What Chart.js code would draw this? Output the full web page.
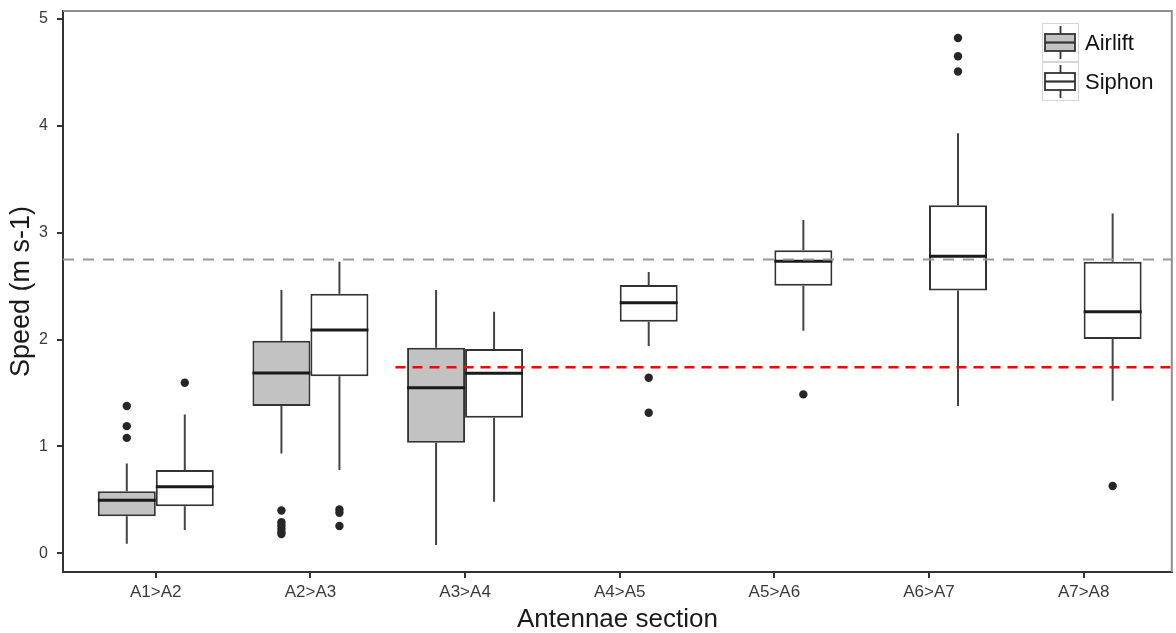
<!DOCTYPE html>
<html>
<head>
<meta charset="utf-8">
<title>Speed by antennae section</title>
<script src="https://cdn.jsdelivr.net/npm/chart.js@4.4.1/dist/chart.umd.min.js"></script>
<style>
  html, body { margin: 0; padding: 0; background: #fff; overflow: hidden; }
  #wrap { width: 1176px; height: 633px; }
</style>
</head>
<body>
<div id="wrap"><canvas id="chart"></canvas></div>
<script>
// --- DATA ---
const sections = ["A1>A2", "A2>A3", "A3>A4", "A4>A5", "A5>A6", "A6>A7", "A7>A8"];
const yTicks = [0, 1, 2, 3, 4, 5];

// Airlift only measured on the first three sections
const airliftLow = [0.09, 0.935, 0.078];
const airliftQ1 = [0.346, 1.378, 1.035];
const airliftMed = [0.496, 1.687, 1.549];
const airliftQ3 = [0.58, 1.99, 1.923];
const airliftHigh = [0.84, 2.463, 2.463];
const airliftOutliers = [[1.08, 1.19, 1.378], [0.40, 0.29, 0.26, 0.23, 0.20, 0.18], []];

const siphonLow = [0.218, 0.78, 0.483, 1.94, 2.083, 1.378, 1.428];
const siphonQ1 = [0.44, 1.658, 1.269, 2.166, 2.503, 2.46, 2.005];
const siphonMed = [0.623, 2.09, 1.684, 2.344, 2.734, 2.781, 2.26];
const siphonQ3 = [0.78, 2.43, 1.911, 2.51, 2.837, 3.258, 2.728];
const siphonHigh = [1.30, 2.728, 2.26, 2.632, 3.118, 3.932, 3.18];
const siphonOutliers = [[1.596], [0.41, 0.38, 0.255], [], [1.643, 1.315], [1.487], [4.823, 4.652, 4.509], [0.63]];

// reference speeds (dashed lines)
const greyRef = 2.75;
const redRef = 1.74;
const redRefFrom = 1.55; // section position where the red line starts

// --- LAYOUT ---
const DODGE = 0.1875;           // half a box width, in section units
const X_MIN = -0.6, X_MAX = 6.57;
const Y_MIN = -0.175, Y_MAX = 5.075;
const FONT = "'Liberation Sans', Arial, sans-serif";
const INK = "#333333";
const AIRLIFT_FILL = "#c2c2c2";

// --- HELPERS ---
const boxes = (q1, q3, off) => q1.map((v, i) => ({ x: i + off, y: [v, q3[i]] }));

// line segments broken by null points
const segs = (list) => {
  const out = [];
  list.forEach(([x1, y1, x2, y2]) => {
    out.push({ x: x1, y: y1 }, { x: x2, y: y2 }, { x: x2, y: null });
  });
  return out;
};

const whiskerSegs = (low, q1, q3, high, off) => segs(low.flatMap((v, i) => [
  [i + off, v, i + off, q1[i]],
  [i + off, q3[i], i + off, high[i]]
]));

const medianSegs = (med, off) => segs(med.map((v, i) => [i + off - DODGE, v, i + off + DODGE, v]));

const outlierPts = (list, off) => list.flatMap((vals, i) => vals.map(v => ({ x: i + off, y: v })));

const lineDs = (data, color, width, order, dash) => ({
  type: "line",
  data,
  borderColor: color,
  borderWidth: width,
  borderDash: dash || [],
  borderCapStyle: "butt",
  pointRadius: 0,
  spanGaps: false,
  order
});

const pointDs = (data) => ({
  type: "scatter",
  data,
  pointRadius: 4.2,
  pointBackgroundColor: "#262626",
  pointBorderWidth: 0,
  order: 1
});

// no extra room for overhanging tick labels, the panel is placed by layout padding
const noOverhang = (axis) => {
  axis.paddingTop = 0;
  axis.paddingBottom = 0;
  axis.paddingLeft = 0;
  axis.paddingRight = 0;
};

// --- PLUGIN: panel top/right edge + legend inside the panel ---
const panelPlugin = {
  id: "panel",
  afterDraw(chart) {
    const { ctx, chartArea: a } = chart;
    ctx.save();
    ctx.strokeStyle = "#8f8f8f";
    ctx.lineWidth = 2;
    ctx.beginPath();
    ctx.moveTo(a.left, a.top);
    ctx.lineTo(a.right, a.top);
    ctx.lineTo(a.right, a.bottom);
    ctx.stroke();

    // legend
    const keys = [{ label: "Airlift", fill: AIRLIFT_FILL }, { label: "Siphon", fill: "#ffffff" }];
    const kx = 1042, ky = 23, kw = 37, kh = 39;
    keys.forEach((k, i) => {
      const top = ky + i * kh;
      const cy = top + kh / 2;
      const cx = kx + kw / 2;
      ctx.fillStyle = "#ffffff";
      ctx.fillRect(kx, top, kw, kh);
      ctx.strokeStyle = "#d6d6d6";
      ctx.lineWidth = 1;
      ctx.strokeRect(kx + 0.5, top + 0.5, kw - 1, kh - 1);

      ctx.strokeStyle = INK;
      ctx.lineWidth = 1.8;
      ctx.beginPath();
      ctx.moveTo(cx, top + 3);
      ctx.lineTo(cx, top + kh - 3);
      ctx.stroke();
      ctx.fillStyle = k.fill;
      ctx.fillRect(kx + 3, cy - 8.5, kw - 7, 17);
      ctx.strokeRect(kx + 3, cy - 8.5, kw - 7, 17);
      ctx.lineWidth = 2.2;
      ctx.beginPath();
      ctx.moveTo(kx + 3, cy);
      ctx.lineTo(kx + kw - 4, cy);
      ctx.stroke();

      ctx.fillStyle = "#111111";
      ctx.font = "22px " + FONT;
      ctx.textAlign = "left";
      ctx.textBaseline = "middle";
      ctx.fillText(k.label, kx + kw + 6, cy + 1);
    });
    ctx.restore();
  }
};

// --- CHART ---
new Chart(document.getElementById("chart"), {
  type: "bar",
  data: {
    datasets: [
      {
        label: "Airlift",
        data: boxes(airliftQ1, airliftQ3, 0),
        backgroundColor: AIRLIFT_FILL,
        borderColor: INK,
        borderWidth: 2,
        borderSkipped: false,
        categoryPercentage: 0.75,
        barPercentage: 1.0,
        order: 3
      },
      {
        label: "Siphon",
        data: boxes(siphonQ1, siphonQ3, 0),
        backgroundColor: "#ffffff",
        borderColor: INK,
        borderWidth: 2,
        borderSkipped: false,
        categoryPercentage: 0.75,
        barPercentage: 1.0,
        order: 3
      },
      lineDs(whiskerSegs(airliftLow, airliftQ1, airliftQ3, airliftHigh, -DODGE), "#444444", 2, 4),
      lineDs(whiskerSegs(siphonLow, siphonQ1, siphonQ3, siphonHigh, DODGE), "#444444", 2, 4),
      lineDs(medianSegs(airliftMed, -DODGE), "#1a1a1a", 3, 2),
      lineDs(medianSegs(siphonMed, DODGE), "#1a1a1a", 3, 2),
      pointDs(outlierPts(airliftOutliers, -DODGE)),
      pointDs(outlierPts(siphonOutliers, DODGE)),
      lineDs([{ x: X_MIN, y: greyRef }, { x: X_MAX, y: greyRef }], "#999999", 2, 0, [11, 9]),
      lineDs([{ x: redRefFrom, y: redRef }, { x: X_MAX, y: redRef }], "#ff0000", 2.5, 0, [10, 7])
    ]
  },
  options: {
    responsive: true,
    maintainAspectRatio: false,
    animation: false,
    events: [],
    layout: { padding: { top: 11, right: -1, left: 0, bottom: 0 } },
    plugins: { legend: { display: false }, tooltip: { enabled: false } },
    scales: {
      x: {
        type: "linear",
        min: X_MIN,
        max: X_MAX,
        offset: false,
        afterBuildTicks: (axis) => { axis.ticks = sections.map((_, i) => ({ value: i })); },
        afterFit: (axis) => { axis.height = 61; noOverhang(axis); },
        ticks: {
          callback: (v) => sections[v],
          color: "#3a3a3a",
          font: { family: FONT, size: 17 },
          padding: 4,
          maxRotation: 0,
          autoSkip: false
        },
        grid: { display: true, offset: false, drawOnChartArea: false, drawTicks: true, tickLength: 6, color: INK, lineWidth: 2 },
        border: { display: true, color: INK, width: 2 },
        title: {
          display: true,
          text: "Antennae section",
          color: "#1a1a1a",
          font: { family: FONT, size: 26, lineHeight: 1 },
          padding: { top: 0, bottom: 0 }
        }
      },
      y: {
        min: Y_MIN,
        max: Y_MAX,
        stacked: false,
        afterBuildTicks: (axis) => { axis.ticks = yTicks.map(v => ({ value: v })); },
        afterFit: (axis) => { axis.width = 63; noOverhang(axis); },
        ticks: {
          color: "#3a3a3a",
          font: { family: FONT, size: 16 },
          padding: 9
        },
        grid: { display: true, drawOnChartArea: false, drawTicks: true, tickLength: 6, color: INK, lineWidth: 2 },
        border: { display: true, color: INK, width: 2 },
        title: {
          display: true,
          text: "Speed (m s-1)",
          color: "#1a1a1a",
          font: { family: FONT, size: 27, lineHeight: 1 },
          padding: { top: 8, bottom: 0 }
        }
      }
    }
  },
  plugins: [panelPlugin]
});
</script>
</body>
</html>
